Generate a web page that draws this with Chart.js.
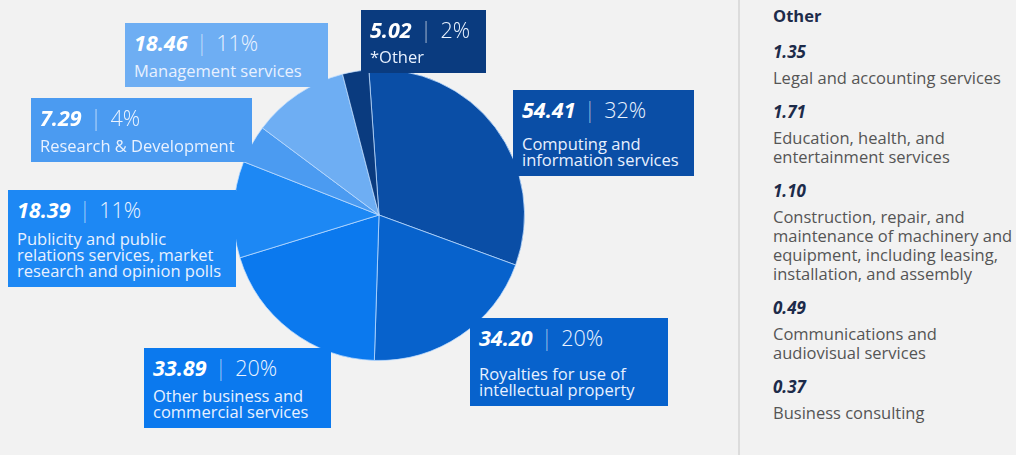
<!DOCTYPE html>
<html>
<head>
<meta charset="utf-8">
<script src="https://cdn.jsdelivr.net/npm/chart.js@4.4.1/dist/chart.umd.min.js"></script>
<style>
    html, body {
        margin: 0;
        padding: 0;
        background: #f2f2f2;
        font-family: 'Open Sans', 'Noto Sans', sans-serif;
    }
    #stage {
        position: relative;
        width: 1016px;
        height: 455px;
        overflow: hidden;
    }
    #pieWrap {
        position: absolute;
        left: 233px;
        top: 69px;
        width: 292px;
        height: 292px;
    }
    .tag {
        position: absolute;
        color: #fff;
        box-sizing: border-box;
    }
    .tag .val {
        position: absolute;
        left: 9px;
        top: 7px;
        font-size: 21.5px;
        line-height: 26px;
        white-space: nowrap;
    }
    .tag .val b {
        font-weight: 700;
        font-style: italic;
    }
    .tag .val .bar {
        font-weight: 300;
        color: rgba(255, 255, 255, 0.6);
        margin: 0 3px;
    }
    .tag .val .pct {
        font-weight: 300;
        color: #eaf3ff;
    }
    .tag .desc {
        position: absolute;
        left: 9px;
        bottom: 8px;
        font-size: 16.5px;
        line-height: 16px;
        white-space: pre-line;
        color: #e8f1ff;
    }
    #divider {
        position: absolute;
        left: 738px;
        top: 0;
        width: 2px;
        height: 455px;
        background: #dcdcdc;
    }
    #side {
        position: absolute;
        left: 773px;
        top: 6px;
        width: 243px;
    }
    #side h3 {
        margin: 0 0 16px 0;
        font-size: 16.5px;
        line-height: 20px;
        font-weight: 700;
        color: #1d2b4a;
    }
    #side .item {
        margin-bottom: 15px;
    }
    #side .item .v {
        font-size: 17px;
        line-height: 20px;
        font-weight: 700;
        font-style: italic;
        color: #1d2b4a;
    }
    #side .item .d {
        margin-top: 6px;
        font-size: 16.5px;
        line-height: 19px;
        color: #555;
        white-space: pre-line;
    }
</style>
</head>
<body>
<div id="stage">
    <div id="pieWrap"><canvas id="servicesPie"></canvas></div>
    <div id="divider"></div>
    <div id="side"><h3>Other</h3><div id="otherList"></div></div>
</div>

<script>
// Services breakdown, clockwise from the top
const categories = [
    'Computing and\ninformation services',
    'Royalties for use of\nintellectual property',
    'Other business and\ncommercial services',
    'Publicity and public\nrelations services, market\nresearch and opinion polls',
    'Research & Development',
    'Management services',
    '*Other'
];
const values = [54.41, 34.20, 33.89, 18.39, 7.29, 18.46, 5.02];
const shares = ['32%', '20%', '20%', '11%', '4%', '11%', '2%'];
const colors = ['#0a4ea6', '#0762cc', '#0b79ee', '#1d88f4', '#4b9bf1', '#6eaef3', '#0a3b7f'];

// Breakdown of the "*Other" slice
const otherNames = [
    'Legal and accounting services',
    'Education, health, and\nentertainment services',
    'Construction, repair, and\nmaintenance of machinery and\nequipment, including leasing,\ninstallation, and assembly',
    'Communications and\naudiovisual services',
    'Business consulting'
];
const otherValues = [1.35, 1.71, 1.10, 0.49, 0.37];

// callout boxes: left, top, width, height
const tagBoxes = [
    [513, 90, 181, 86],
    [470, 318, 198, 88],
    [144, 348, 187, 80],
    [8, 190, 228, 97],
    [31, 98, 221, 64],
    [125, 23, 203, 64],
    [361, 10, 125, 63]
];

function drawTags() {
    const stage = document.getElementById('stage');
    categories.forEach((name, i) => {
        const [x, y, w, h] = tagBoxes[i];
        const tag = document.createElement('div');
        tag.className = 'tag';
        tag.style.left = x + 'px';
        tag.style.top = y + 'px';
        tag.style.width = w + 'px';
        tag.style.height = h + 'px';
        tag.style.background = colors[i];
        tag.innerHTML = `
            <div class="val"><b>${values[i].toFixed(2)}</b><span class="bar"> | </span><span class="pct">${shares[i]}</span></div>
            <div class="desc"></div>
        `;
        tag.querySelector('.desc').textContent = name;
        stage.appendChild(tag);
    });
}

function drawOtherList() {
    const list = document.getElementById('otherList');
    otherNames.forEach((name, i) => {
        const item = document.createElement('div');
        item.className = 'item';
        item.innerHTML = `<div class="v">${otherValues[i].toFixed(2)}</div><div class="d"></div>`;
        item.querySelector('.d').textContent = name;
        list.appendChild(item);
    });
}

function createServicesPie() {
    const ctx = document.getElementById('servicesPie');
    new Chart(ctx, {
        type: 'pie',
        data: {
            labels: categories,
            datasets: [{
                data: values,
                backgroundColor: colors,
                borderColor: 'rgba(190, 220, 255, 0.75)',
                borderWidth: 1
            }]
        },
        options: {
            responsive: true,
            maintainAspectRatio: false,
            animation: false,
            rotation: -4,
            layout: { padding: 0 },
            plugins: {
                legend: { display: false },
                tooltip: { enabled: false }
            }
        }
    });
}

drawTags();
drawOtherList();
createServicesPie();
</script>
</body>
</html>
